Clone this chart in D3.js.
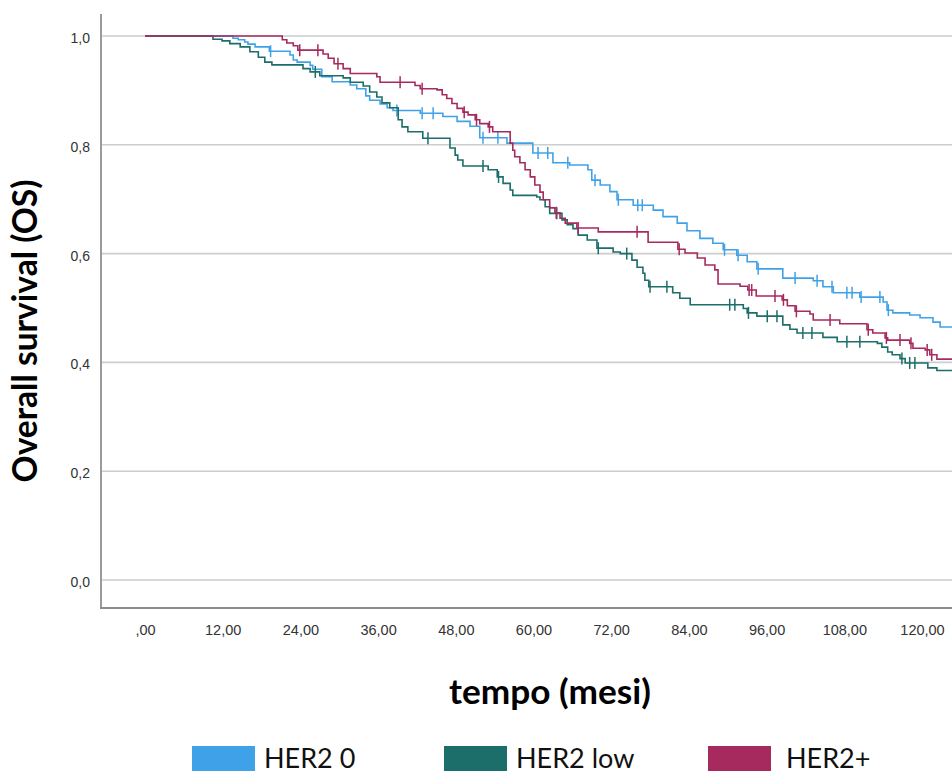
<!DOCTYPE html>
<html><head><meta charset="utf-8">
<script src="https://cdn.jsdelivr.net/npm/d3@7"></script>
<style>body{margin:0;background:#fff;overflow:hidden} svg{display:block}</style>
</head><body><svg id="c" width="952" height="776"></svg>
<script>
// ---------- DATA ----------
const categories = ["HER2 0", "HER2 low", "HER2+"];

const her2zeroTimes = [0,13.6,14.4,15.4,15.9,17.0,19.2,22.4,22.9,23.5,25.5,25.9,27.3,28.9,31.7,32.7,34.1,34.7,36.3,37.4,38.3,42.5,46.0,48.2,50.2,51.7,55.9,59.9,63.0,65.6,68.4,69.0,70.3,71.8,72.9,75.4,78.5,80.0,82.2,83.7,85.7,87.7,89.3,91.4,93.0,94.5,98.5,103.2,104.7,106.3,110.4,114.0,114.6,115.5,118.1,119.7,121.7,122.8];
const her2zeroSurv  = [1,0.996,0.993,0.989,0.985,0.980,0.972,0.965,0.956,0.952,0.946,0.939,0.925,0.916,0.910,0.903,0.890,0.882,0.875,0.868,0.863,0.858,0.852,0.843,0.834,0.813,0.803,0.785,0.767,0.763,0.754,0.735,0.726,0.714,0.699,0.689,0.680,0.668,0.656,0.642,0.628,0.619,0.607,0.597,0.585,0.572,0.555,0.550,0.539,0.528,0.520,0.511,0.496,0.491,0.487,0.482,0.474,0.465];
const her2zeroCensored = [19.4,38.9,42.8,44.5,52.2,54.5,60.7,62.2,65.3,69.5,73.1,76.1,76.8,89.5,91.6,94.7,100.4,103.8,106.1,108.4,109.2,110.6,113.5,114.8];

const her2lowTimes = [0,10.5,11.9,13.1,14.7,16.2,17.5,18.5,19.6,24.4,25.5,27.0,30.6,31.7,33.7,34.7,35.8,36.6,37.8,39.1,39.7,40.6,42.9,47.1,47.9,48.3,49.1,53.0,54.4,55.3,56.4,56.8,60.5,61.0,61.8,62.5,64.4,65.2,66.1,66.9,68.3,69.8,72.3,73.4,75.2,76.0,76.9,77.2,77.8,81.5,82.6,84.2,92.4,93.0,94.5,98.5,99.6,100.7,104.7,106.9,113.1,113.8,114.7,115.4,116.6,117.4,120.9,122.3];
const her2lowSurv  = [1,0.994,0.991,0.986,0.980,0.971,0.961,0.952,0.947,0.940,0.934,0.927,0.923,0.915,0.908,0.897,0.888,0.877,0.868,0.846,0.833,0.824,0.812,0.794,0.781,0.772,0.761,0.754,0.741,0.729,0.717,0.707,0.704,0.699,0.686,0.674,0.662,0.653,0.646,0.634,0.625,0.610,0.603,0.600,0.588,0.575,0.564,0.551,0.539,0.528,0.518,0.506,0.499,0.491,0.485,0.469,0.461,0.454,0.446,0.438,0.435,0.428,0.419,0.414,0.407,0.399,0.390,0.385];
const her2lowCensored = [26.3,43.7,52.2,54.6,63.6,70.0,74.4,78.0,80.6,90.3,91.1,93.2,96.1,97.6,101.6,103.0,108.4,110.4,116.9,118.1,118.9];

const her2posTimes = [0,21.2,21.9,22.9,23.6,27.5,28.3,29.2,30.6,31.7,35.8,36.3,41.7,42.5,45.1,45.9,46.6,47.4,48.2,49.1,49.9,51.0,51.7,53.0,53.7,56.4,56.8,57.1,57.9,58.7,59.5,60.2,61.0,61.5,62.5,63.3,64.1,64.9,66.7,70.0,77.7,82.3,83.4,85.3,86.5,88.0,88.5,91.9,93.1,94.4,98.4,99.2,100.4,102.7,103.2,107.3,111.5,112.4,114.3,114.7,118.1,118.6,120.5,121.2,122.3];
const her2posSurv  = [1,0.993,0.987,0.982,0.974,0.967,0.959,0.949,0.940,0.931,0.925,0.915,0.909,0.903,0.901,0.892,0.885,0.876,0.867,0.860,0.855,0.846,0.839,0.833,0.824,0.803,0.790,0.778,0.767,0.754,0.741,0.726,0.713,0.699,0.684,0.675,0.665,0.656,0.647,0.640,0.621,0.608,0.601,0.592,0.579,0.570,0.544,0.540,0.533,0.522,0.515,0.504,0.494,0.489,0.478,0.471,0.460,0.454,0.445,0.441,0.435,0.426,0.423,0.414,0.406];
const her2posCensored = [23.9,26.7,29.8,39.4,42.8,49.3,51.2,53.2,63.5,66.9,76.0,82.5,93.3,93.7,97.3,98.6,100.6,105.8,111.7,114.5,116.6,118.3,120.8,121.5];

const followUpEnd = 130;
const xTickValues = [0,12,24,36,48,60,72,84,96,108,120];
const xTickLabels = [",00","12,00","24,00","36,00","48,00","60,00","72,00","84,00","96,00","108,00","120,00"];
const yTickValues = [0,0.2,0.4,0.6,0.8,1.0];
const yTickLabels = ["0,0","0,2","0,4","0,6","0,8","1,0"];
const xTitle = "tempo (mesi)";
const yTitle = "Overall survival (OS)";

// ---------- LAYOUT / STYLE ----------
const colors = ["#3fa2e8", "#1b6e69", "#a72a5f"];
const plotLeft = 101, plotRight = 952, plotTop = 14, plotBottom = 608;

const series = [
  {name: categories[0], times: her2zeroTimes, surv: her2zeroSurv, cens: her2zeroCensored, color: colors[0]},
  {name: categories[1], times: her2lowTimes, surv: her2lowSurv, cens: her2lowCensored, color: colors[1]},
  {name: categories[2], times: her2posTimes, surv: her2posSurv, cens: her2posCensored, color: colors[2]}
];

const svg = d3.select("#c");
const x = d3.scaleLinear().domain([0, 120]).range([145, 922]);
const y = d3.scaleLinear().domain([0, 1]).range([580, 36]);

// gridlines
svg.append("g").selectAll("line").data(yTickValues).join("line")
  .attr("x1", plotLeft).attr("x2", plotRight)
  .attr("y1", d => y(d)).attr("y2", d => y(d))
  .attr("stroke", "#cdcdcd").attr("stroke-width", 1.6);

// axis lines
svg.append("line").attr("x1", plotLeft).attr("x2", plotLeft).attr("y1", plotTop).attr("y2", plotBottom)
  .attr("stroke", "#9a9a9a").attr("stroke-width", 2);
svg.append("line").attr("x1", plotLeft - 1).attr("x2", plotRight).attr("y1", plotBottom).attr("y2", plotBottom)
  .attr("stroke", "#8c8c8c").attr("stroke-width", 2);

// y tick labels
const yAx = svg.append("g").attr("transform", "translate(90,2)")
  .call(d3.axisLeft(y).tickValues(yTickValues).tickFormat((d, i) => yTickLabels[i]).tickSize(0).tickPadding(0));
yAx.select(".domain").remove();
yAx.selectAll("text").attr("font-family", "'Liberation Sans', Arial, sans-serif").attr("font-size", 14).attr("fill", "#333");

// x tick labels
const xAx = svg.append("g").attr("transform", "translate(0,625)")
  .call(d3.axisBottom(x).tickValues(xTickValues).tickFormat((d, i) => xTickLabels[i]).tickSize(0).tickPadding(0));
xAx.select(".domain").remove();
xAx.selectAll("text").attr("font-family", "'Liberation Sans', Arial, sans-serif").attr("font-size", 14.5).attr("fill", "#333");

// curves
const line = d3.line().x(d => x(d[0])).y(d => y(d[1])).curve(d3.curveStepAfter);
function survAt(s, t) {
  let v = s.surv[0];
  for (let i = 0; i < s.times.length; i++) { if (s.times[i] <= t) v = s.surv[i]; }
  return v;
}
series.forEach(s => {
  const pts = s.times.map((t, i) => [t, s.surv[i]]);
  pts.push([followUpEnd, s.surv[s.surv.length - 1]]);
  svg.append("path").datum(pts).attr("d", line)
    .attr("fill", "none").attr("stroke", s.color).attr("stroke-width", 1.6);
  svg.append("g").selectAll("line").data(s.cens).join("line")
    .attr("x1", d => x(d)).attr("x2", d => x(d))
    .attr("y1", d => y(survAt(s, d)) - 6).attr("y2", d => y(survAt(s, d)) + 6)
    .attr("stroke", s.color).attr("stroke-width", 1.5);
});

function fitWidth(sel, target) {
  const w = sel.node().getComputedTextLength();
  const fs = parseFloat(sel.attr("font-size"));
  sel.attr("font-size", fs * target / w);
}

// titles
const yt = svg.append("text").text(yTitle)
  .attr("transform", "translate(37,331) rotate(-90)")
  .attr("text-anchor", "middle").attr("font-family", "Lato, 'Open Sans', sans-serif")
  .attr("font-weight", "bold").attr("font-size", 28).attr("fill", "#000");
fitWidth(yt, 303);

const xt = svg.append("text").text(xTitle)
  .attr("x", 550).attr("y", 704)
  .attr("text-anchor", "middle").attr("font-family", "Lato, 'Open Sans', sans-serif")
  .attr("font-weight", "bold").attr("font-size", 28).attr("fill", "#000");
fitWidth(xt, 202);

// legend
const legendSwatchX = [192, 444, 708];
const legendTextX = [264, 516, 786];
const lg = svg.append("g");
series.forEach((s, i) => {
  lg.append("rect").attr("x", legendSwatchX[i]).attr("y", 746).attr("width", 63).attr("height", 25)
    .attr("fill", s.color);
  lg.append("text").attr("class", "lt").text(s.name)
    .attr("x", legendTextX[i]).attr("y", 768)
    .attr("font-family", "Lato, 'Open Sans', sans-serif").attr("font-size", 26).attr("fill", "#111");
});
const first = lg.select("text.lt");
const w0 = first.node().getComputedTextLength();
const legendFs = Math.min(26 * 103 / w0, 27);
lg.selectAll("text.lt").attr("font-size", legendFs);
</script>
</body></html>
